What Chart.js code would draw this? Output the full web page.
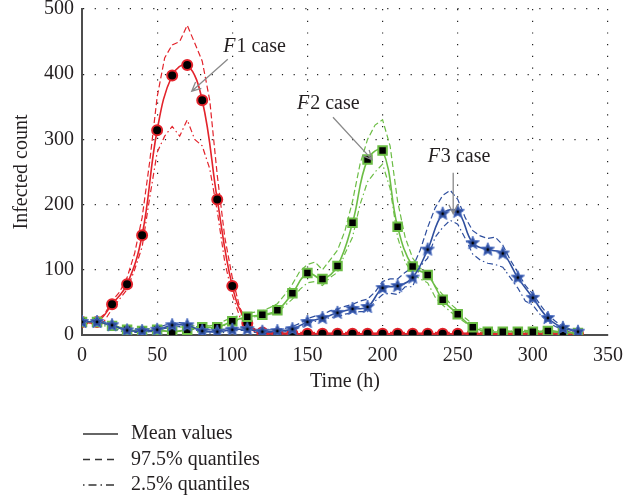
<!DOCTYPE html>
<html>
<head>
<meta charset="utf-8">
<script src="https://cdn.jsdelivr.net/npm/chart.js@4"></script>
<style>
  html, body { margin: 0; padding: 0; background: #fff; }
  #wrap { width: 640px; height: 500px; }
</style>
</head>
<body>
<div id="wrap"><canvas id="chart" width="640" height="500"></canvas></div>
<script>
// mean values, one marker every 10 h
const times = [0, 10, 20, 30, 40, 50, 60, 70, 80, 90, 100, 110, 120, 130, 140, 150, 160,
  170, 180, 190, 200, 210, 220, 230, 240, 250, 260, 270, 280, 290, 300, 310, 320, 330];
const f1Mean = [20, 20, 47, 78, 153, 314, 398, 414, 360, 208, 75, 18, 4, 2, 2, 2, 2,
  2, 2, 2, 2, 2, 2, 2, 2, 2, 2, 2, 2, 2, 2, 2, 2, 2];
const f2Mean = [20, 20, 14, 8, 6, 8, 5, 8, 12, 12, 21, 28, 31, 38, 64, 95, 86,
  106, 172, 269, 283, 166, 105, 92, 54, 32, 12, 5, 5, 5, 5, 6, 4, 3];
const f3Mean = [20, 20, 15, 7, 6, 8, 15, 15, 6, 5, 8, 9, 5, 6, 9, 20, 26,
  34, 40, 43, 72, 75, 88, 131, 186, 189, 141, 131, 125, 88, 57, 26, 11, 5];

// quantiles, every 5 h
const qTimes = [0, 5, 10, 15, 20, 25, 30, 35, 40, 45, 50, 55, 60, 65, 70, 75, 80, 85, 90, 95,
  100, 105, 110, 115, 120, 125, 130, 135, 140, 145, 150, 155, 160, 165, 170, 175, 180, 185, 190, 195,
  200, 205, 210, 215, 220, 225, 230, 235, 240, 245, 250, 255, 260, 265, 270, 275, 280, 285, 290, 295,
  300, 305, 310, 315, 320, 325, 330];
const f1Q975 = [22, 22, 23, 32, 52, 66, 88, 125, 180, 265, 365, 425, 445, 450, 475, 448, 420, 360, 245, 150,
  88, 42, 20, 9, 6, 4, 4, 3, 4, 4, 3, 4, 4, 3, 4, 4, 3, 4, 4, 3,
  4, 4, 3, 4, 4, 3, 4, 4, 3, 4, 4, 3, 4, 4, 3, 4, 4, 3, 4, 4,
  3, 4, 4, 3, 4, 4, 3];
const f1Q025 = [18, 18, 18, 22, 40, 55, 70, 100, 135, 210, 280, 305, 320, 305, 330, 300, 290, 255, 190, 112,
  62, 28, 12, 5, 2, 1, 1, 1, 1, 1, 1, 1, 1, 1, 1, 1, 1, 1, 1, 1,
  1, 1, 1, 1, 1, 1, 1, 1, 1, 1, 1, 1, 1, 1, 1, 1, 1, 1, 1, 1,
  1, 1, 1, 1, 1, 1, 1];
const f2Q975 = [22, 22, 22, 18, 16, 12, 10, 10, 9, 10, 12, 11, 10, 12, 13, 14, 15, 14, 16, 22,
  27, 30, 33, 35, 37, 42, 48, 62, 78, 98, 108, 112, 100, 115, 130, 160, 205, 262, 300, 322,
  330, 290, 205, 150, 118, 102, 97, 75, 62, 48, 38, 26, 17, 10, 7, 7, 7, 6, 7, 7,
  6, 7, 8, 6, 5, 4, 4];
const f2Q025 = [18, 18, 18, 14, 12, 8, 6, 6, 5, 6, 6, 6, 4, 6, 7, 9, 10, 10, 10, 15,
  18, 24, 26, 28, 29, 32, 34, 45, 55, 70, 80, 82, 76, 88, 96, 125, 150, 200, 235, 250,
  262, 225, 150, 112, 94, 86, 80, 58, 46, 36, 27, 19, 10, 5, 4, 4, 4, 4, 4, 4,
  4, 4, 5, 4, 3, 3, 2];
const f3Q975 = [22, 22, 22, 20, 17, 11, 9, 8, 8, 9, 11, 15, 18, 19, 18, 14, 9, 8, 8, 9,
  11, 12, 12, 10, 8, 8, 9, 10, 13, 18, 25, 29, 31, 37, 40, 44, 47, 52, 55, 66,
  82, 86, 86, 96, 104, 130, 165, 195, 214, 222, 208, 180, 160, 152, 148, 150, 138, 115, 96, 76,
  63, 46, 31, 21, 13, 9, 6];
const f3Q025 = [18, 18, 18, 16, 13, 6, 5, 4, 4, 5, 6, 10, 12, 13, 12, 8, 4, 3, 3, 4,
  6, 7, 7, 4, 3, 4, 4, 5, 6, 12, 17, 21, 22, 27, 28, 32, 34, 36, 36, 52,
  62, 64, 62, 74, 74, 105, 118, 150, 165, 176, 170, 148, 124, 115, 110, 108, 104, 88, 72, 52,
  46, 31, 20, 13, 8, 4, 3];

const xTicks = [0, 50, 100, 150, 200, 250, 300, 350];
const yTicks = [0, 100, 200, 300, 400, 500];

const RED = '#e3232b';
const GREEN = '#6cbd45';
const BLUE = '#2f4f9e';
const FONT = "'Liberation Serif', 'DejaVu Serif', serif";

const pts = (xs, ys) => xs.map((x, i) => ({ x: x, y: ys[i] }));

// filled star marker with a black centre
function makeStar(r) {
  const c = document.createElement('canvas');
  const s = Math.ceil(r * 2 + 4);
  c.width = s;
  c.height = s;
  const g = c.getContext('2d');
  const cx = s / 2, cy = s / 2;
  g.beginPath();
  for (let i = 0; i < 10; i++) {
    const rr = i % 2 === 0 ? r : r * 0.45;
    const a = -Math.PI / 2 + i * Math.PI / 5;
    const px = cx + rr * Math.cos(a), py = cy + rr * Math.sin(a);
    if (i === 0) g.moveTo(px, py); else g.lineTo(px, py);
  }
  g.closePath();
  g.fillStyle = BLUE;
  g.fill();
  g.strokeStyle = '#4a6cc0';
  g.lineWidth = 1;
  g.stroke();
  g.beginPath();
  g.arc(cx, cy, 1.4, 0, Math.PI * 2);
  g.fillStyle = '#000';
  g.fill();
  return c;
}

const meanLine = (data, color, style, extra) => Object.assign({
  data: data,
  borderColor: color,
  borderWidth: 1.6,
  tension: 0.4,
  pointStyle: style,
  pointBackgroundColor: '#000',
  pointBorderColor: color,
  pointBorderWidth: 2,
  pointRadius: 5,
}, extra || {});

const quantLine = (data, color, dash) => ({
  data: data,
  borderColor: color,
  borderWidth: 1.2,
  borderDash: dash,
  tension: 0,
  pointRadius: 0,
});

const DASH = [6, 3];
const DASHDOT = [6, 3, 1.5, 3];

// annotations in data coordinates: text position, arrow tail, arrow tip
const notes = [
  { name: '1 case', tx: 94, ty: 442, x0: 97, y0: 423, x1: 73, y1: 374 },
  { name: '2 case', tx: 143, ty: 354, x0: 167, y0: 334, x1: 193, y1: 269 },
  { name: '3 case', tx: 230, ty: 274, x0: 247, y0: 249, x1: 247, y1: 186 },
];

const extras = {
  id: 'extras',
  afterDraw(chart) {
    const { ctx } = chart;
    const xs = chart.scales.x, ys = chart.scales.y;
    ctx.save();
    // annotations
    notes.forEach(n => {
      const ax = xs.getPixelForValue(n.x0), ay = ys.getPixelForValue(n.y0);
      const bx = xs.getPixelForValue(n.x1), by = ys.getPixelForValue(n.y1);
      ctx.strokeStyle = '#8a8a8a';
      ctx.lineWidth = 1.3;
      ctx.setLineDash([]);
      ctx.beginPath();
      ctx.moveTo(ax, ay);
      ctx.lineTo(bx, by);
      const ang = Math.atan2(by - ay, bx - ax);
      const hl = 10, hw = 0.45;
      ctx.moveTo(bx - hl * Math.cos(ang - hw), by - hl * Math.sin(ang - hw));
      ctx.lineTo(bx, by);
      ctx.lineTo(bx - hl * Math.cos(ang + hw), by - hl * Math.sin(ang + hw));
      ctx.stroke();

      const tx = xs.getPixelForValue(n.tx), ty = ys.getPixelForValue(n.ty);
      ctx.fillStyle = '#231f20';
      ctx.textBaseline = 'middle';
      ctx.textAlign = 'left';
      ctx.font = 'italic 20px ' + FONT;
      ctx.fillText('F', tx, ty);
      const w = ctx.measureText('F').width;
      ctx.font = '20px ' + FONT;
      ctx.fillText(n.name, tx + w + 1, ty);
    });

    // legend below the plot
    const rows = [
      { label: 'Mean values', dash: [] },
      { label: '97.5% quantiles', dash: [7, 5] },
      { label: '2.5% quantiles', dash: [1.5, 4, 8, 4] },
    ];
    rows.forEach((r, i) => {
      const y = 434 + i * 25.5;
      ctx.strokeStyle = '#333';
      ctx.lineWidth = 1.3;
      ctx.setLineDash(r.dash);
      ctx.beginPath();
      ctx.moveTo(83, y);
      ctx.lineTo(118, y);
      ctx.stroke();
      ctx.setLineDash([]);
      ctx.fillStyle = '#231f20';
      ctx.font = '20px ' + FONT;
      ctx.textBaseline = 'middle';
      ctx.textAlign = 'left';
      ctx.fillText(r.label, 131, y);
    });
    ctx.restore();
  },
};

new Chart(document.getElementById('chart'), {
  type: 'line',
  data: {
    datasets: [
      meanLine(pts(times, f3Mean), BLUE, makeStar(7), { pointRadius: 7 }),
      meanLine(pts(times, f2Mean), GREEN, 'rect', { pointRadius: 6 }),
      meanLine(pts(times, f1Mean), RED, 'circle'),
      quantLine(pts(qTimes, f3Q975), BLUE, DASH),
      quantLine(pts(qTimes, f3Q025), BLUE, DASHDOT),
      quantLine(pts(qTimes, f2Q975), GREEN, DASH),
      quantLine(pts(qTimes, f2Q025), GREEN, DASHDOT),
      quantLine(pts(qTimes, f1Q975), RED, DASH),
      quantLine(pts(qTimes, f1Q025), RED, DASHDOT),
    ],
  },
  options: {
    responsive: false,
    animation: false,
    events: [],
    layout: { padding: { top: 9, right: 32, left: 0, bottom: 0 } },
    plugins: { legend: { display: false }, tooltip: { enabled: false } },
    scales: {
      x: {
        type: 'linear',
        min: 0,
        max: 350,
        afterBuildTicks: (s) => { s.ticks = xTicks.map(v => ({ value: v })); },
        afterFit: (s) => { s.height = 165; s.paddingLeft = 0; s.paddingRight = 0; },
        ticks: { color: '#231f20', padding: 9, font: { family: FONT, size: 20 }, maxRotation: 0 },
        grid: { color: '#222', lineWidth: 1.2, drawTicks: false },
        border: { color: '#4d4d4d', width: 2, dash: [1.2, 10.5] },
        title: {
          display: true,
          text: 'Time (h)',
          color: '#231f20',
          font: { family: FONT, size: 20 },
          padding: { top: 0, bottom: 106 },
        },
      },
      y: {
        min: 0,
        max: 500,
        afterBuildTicks: (s) => { s.ticks = yTicks.map(v => ({ value: v })); },
        afterFit: (s) => { s.width = 82; s.paddingTop = 0; s.paddingBottom = 0; },
        ticks: { color: '#231f20', padding: 8, font: { family: FONT, size: 20 } },
        grid: { color: '#222', lineWidth: 1.2, drawTicks: false },
        border: { color: '#4d4d4d', width: 2, dash: [1.2, 10.5] },
        title: {
          display: true,
          text: 'Infected count',
          color: '#231f20',
          font: { family: FONT, size: 20 },
          padding: { top: 10, bottom: 0 },
        },
      },
    },
  },
  plugins: [extras],
});
</script>
</body>
</html>
